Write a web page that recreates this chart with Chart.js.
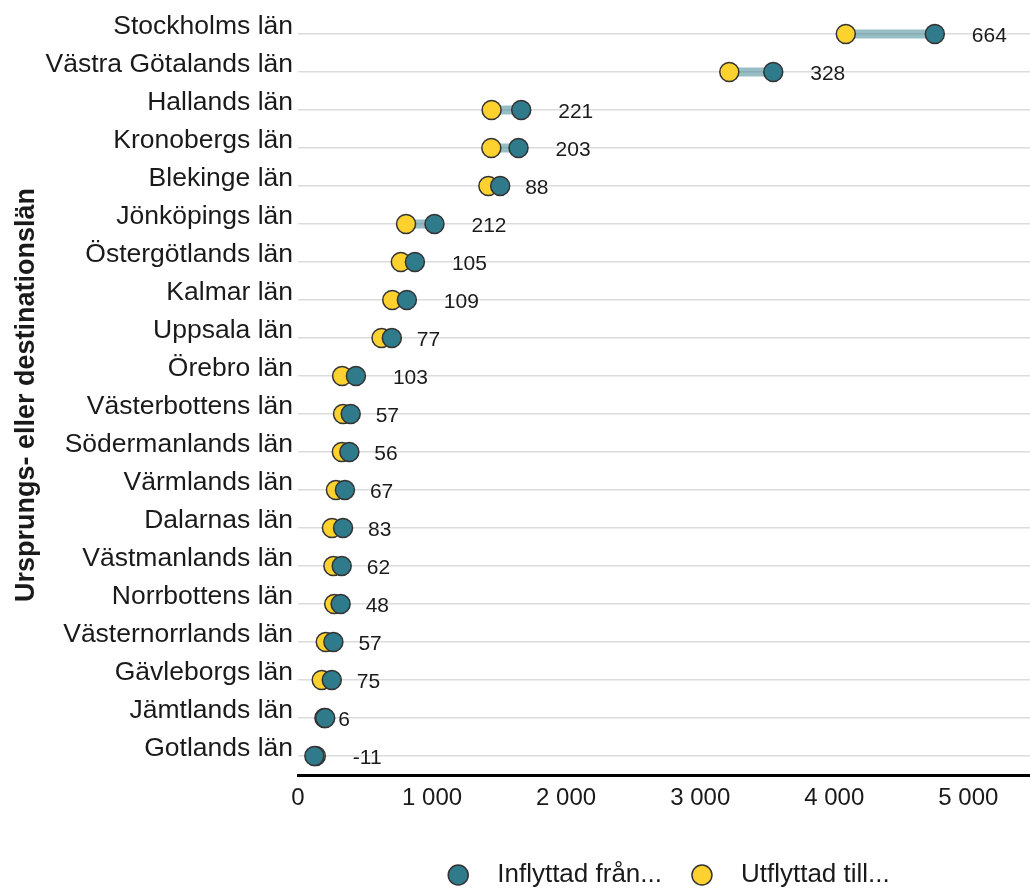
<!DOCTYPE html>
<html lang="sv">
<head>
<meta charset="utf-8">
<title>Inflyttning och utflyttning per län</title>
<script src="https://cdn.jsdelivr.net/npm/chart.js@4.4.1/dist/chart.umd.min.js"></script>
<style>
  html, body { margin: 0; padding: 0; background: #fff; }
  #wrap { width: 1030px; height: 888px; position: relative; }
</style>
</head>
<body>
<div id="wrap"><canvas id="flyttChart"></canvas></div>
<script>
// Län, sorted as in the picture (top to bottom)
const lan = [
  "Stockholms län", "Västra Götalands län", "Hallands län", "Kronobergs län",
  "Blekinge län", "Jönköpings län", "Östergötlands län", "Kalmar län",
  "Uppsala län", "Örebro län", "Västerbottens län", "Södermanlands län",
  "Värmlands län", "Dalarnas län", "Västmanlands län", "Norrbottens län",
  "Västernorrlands län", "Gävleborgs län", "Jämtlands län", "Gotlands län"
];

const inflyttad = [4750, 3545, 1665, 1645, 1508, 1018, 872, 812, 700, 432,
                   393, 383, 350, 336, 326, 318, 264, 252, 203, 122];
const utflyttad = [4086, 3217, 1444, 1442, 1420, 806, 767, 703, 623, 329,
                   336, 327, 283, 253, 264, 270, 207, 177, 197, 133];
const netto = [664, 328, 221, 203, 88, 212, 105, 109, 77, 103,
               57, 56, 67, 83, 62, 48, 57, 75, 6, -11];

const xTicks = [0, 1000, 2000, 3000, 4000, 5000];

const TEAL = "#2f7b8b";
const YELLOW = "#fdd22e";
const FONT = "'Liberation Sans', Arial, sans-serif";

function fmt(v) {
  return String(v).replace(/\B(?=(\d{3})+(?!\d))/g, " ");
}

// connector bars, net labels and legend
const dumbbell = {
  id: "dumbbell",
  beforeDatasetsDraw(chart) {
    const { ctx, scales } = chart;
    ctx.save();
    ctx.strokeStyle = "rgba(47,123,139,0.5)";
    ctx.lineWidth = 9;
    ctx.lineCap = "butt";
    lan.forEach((name, i) => {
      const y = scales.y.getPixelForValue(i);
      ctx.beginPath();
      ctx.moveTo(scales.x.getPixelForValue(utflyttad[i]), y);
      ctx.lineTo(scales.x.getPixelForValue(inflyttad[i]), y);
      ctx.stroke();
    });
    ctx.restore();
  },
  afterDatasetsDraw(chart) {
    const { ctx, scales } = chart;
    ctx.save();
    ctx.font = "21px " + FONT;
    ctx.fillStyle = "#1a1a1a";
    ctx.textAlign = "left";
    ctx.textBaseline = "middle";
    netto.forEach((n, i) => {
      const txt = String(n);
      const base = scales.x.getPixelForValue(Math.max(inflyttad[i], utflyttad[i]));
      const y = scales.y.getPixelForValue(i);
      ctx.fillText(txt, base + 13 + 12 * (txt.length - 1), y + 2);
    });

    // legend
    const items = [
      { text: "Inflyttad från...", color: TEAL },
      { text: "Utflyttad till...", color: YELLOW }
    ];
    ctx.font = "26px " + FONT;
    const r = 10, gapText = 29, gapItem = 30;
    let total = 0;
    items.forEach((it, k) => {
      it.w = ctx.measureText(it.text).width;
      total += 2 * r + gapText + it.w + (k ? 0 : gapItem);
    });
    let x = 669 - total / 2;
    const ly = 875;
    items.forEach(it => {
      ctx.beginPath();
      ctx.arc(x + r, ly, r, 0, Math.PI * 2);
      ctx.fillStyle = it.color;
      ctx.fill();
      ctx.lineWidth = 1.5;
      ctx.strokeStyle = "#333";
      ctx.stroke();
      ctx.fillStyle = "#1a1a1a";
      ctx.fillText(it.text, x + 2 * r + gapText, ly);
      x += 2 * r + gapText + it.w + gapItem;
    });
    ctx.restore();
  }
};

document.addEventListener("DOMContentLoaded", function () {
  const ctx = document.getElementById("flyttChart").getContext("2d");
  new Chart(ctx, {
    type: "scatter",
    data: {
      labels: lan,
      datasets: [
        {
          label: "Inflyttad från...",
          data: inflyttad.map((v, i) => ({ x: v, y: lan[i] })),
          backgroundColor: TEAL,
          borderColor: "#333",
          borderWidth: 1.5,
          pointRadius: 9.5,
          pointHoverRadius: 9.5,
        },
        {
          label: "Utflyttad till...",
          data: utflyttad.map((v, i) => ({ x: v, y: lan[i] })),
          backgroundColor: YELLOW,
          borderColor: "#333",
          borderWidth: 1.5,
          pointRadius: 9.5,
          pointHoverRadius: 9.5,
        },
      ],
    },
    options: {
      responsive: true,
      maintainAspectRatio: false,
      animation: false,
      layout: { autoPadding: false, padding: { top: 15, right: 0, bottom: 68, left: 0 } },
      plugins: {
        legend: { display: false },
        tooltip: { enabled: true },
      },
      scales: {
        x: {
          type: "linear",
          min: 0,
          max: 5460,
          afterFit: (s) => { s.height = 45; s.paddingLeft = 0; s.paddingRight = 0; },
          afterBuildTicks: (s) => { s.ticks = xTicks.map(v => ({ value: v })); },
          ticks: {
            includeBounds: false,
            padding: 9,
            color: "#1a1a1a",
            font: { family: FONT, size: 24 },
            callback: (v) => fmt(v),
          },
          grid: { display: false, drawTicks: false },
          border: { display: true, color: "#000", width: 3 },
        },
        y: {
          type: "category",
          labels: lan,
          offset: true,
          afterFit: (s) => { s.width = 298; s.paddingTop = 0; s.paddingBottom = 0; },
          ticks: {
            padding: 5,
            labelOffset: -7,
            color: "#1a1a1a",
            font: { family: FONT, size: 26.5 },
          },
          grid: { offset: false, drawTicks: false, color: "#dcdcdc", lineWidth: 1.5 },
          border: { display: false },
          title: {
            display: true,
            text: "Ursprungs- eller destinationslän",
            color: "#1a1a1a",
            font: { family: FONT, size: 27, weight: "bold" },
            padding: { top: 10, bottom: 0 },
          },
        },
      },
    },
    plugins: [dumbbell],
  });
});
</script>
</body>
</html>
